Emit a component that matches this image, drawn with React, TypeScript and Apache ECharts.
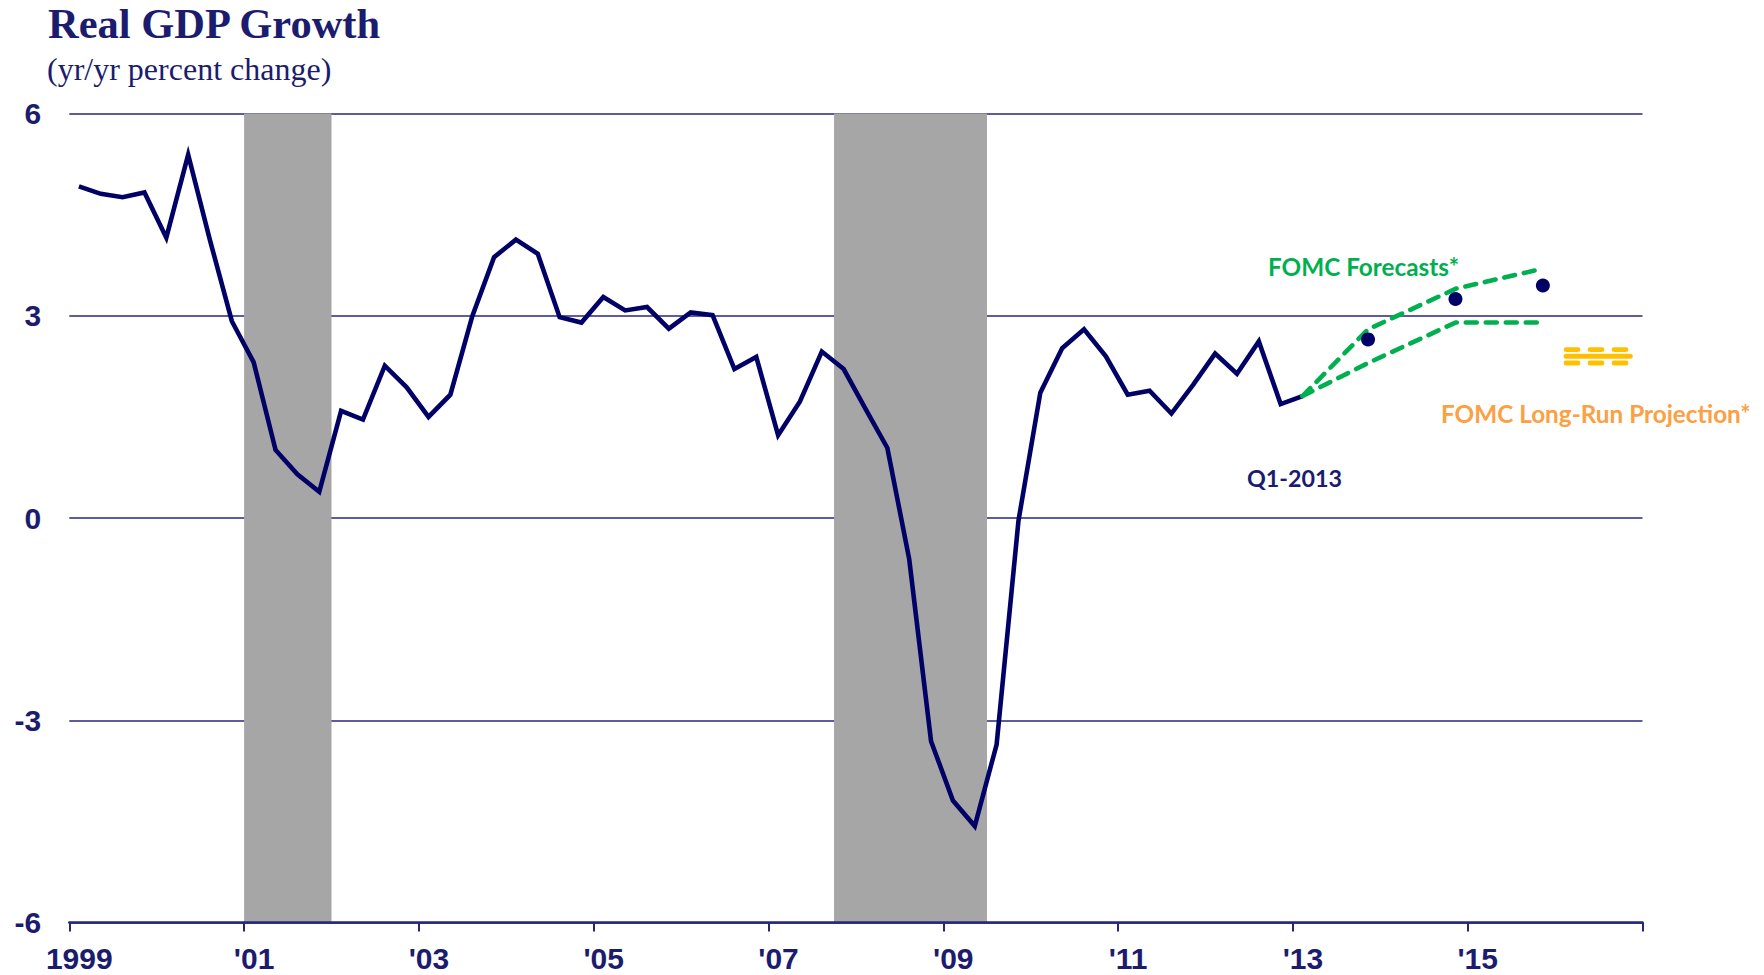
import React, { useEffect, useRef } from "react";
import * as echarts from "echarts";

// ---------- DATA ----------
const TITLE = "Real GDP Growth";
const SUBTITLE = "(yr/yr percent change)";
const START_YEAR = 1999;

// Real GDP, yr/yr % change, quarterly from 1999Q1 to 2013Q1
const gdpYoY: number[] = [
  4.92, 4.81, 4.76, 4.83, // 1999
  4.16, 5.39, 4.12, 2.92, // 2000
  2.31, 1.01, 0.65, 0.39, // 2001
  1.59, 1.46, 2.26, 1.94, // 2002
  1.5, 1.83, 2.99, 3.87, // 2003
  4.13, 3.92, 2.98, 2.9, // 2004
  3.28, 3.08, 3.13, 2.81, // 2005
  3.05, 3.01, 2.21, 2.39, // 2006
  1.23, 1.73, 2.47, 2.21, // 2007
  1.62, 1.04, -0.61, -3.31, // 2008
  -4.19, -4.57, -3.36, -0.04, // 2009
  1.86, 2.52, 2.8, 2.4, // 2010
  1.83, 1.89, 1.55, 1.98, // 2011
  2.44, 2.14, 2.62, 1.69, // 2012
  1.81, // 2013Q1
];

// FOMC central tendency (forecast band)
const forecastPeriods = ["2013Q1", "2013Q4", "2014Q4", "2015Q4"];
const forecastHigh = [1.81, 2.8, 3.4, 3.7];
const forecastLow = [1.81, 2.3, 2.9, 2.9];

// Dots
const dotPeriods = ["2013Q4", "2014Q4", "2015Q4"];
const dotValues = [2.65, 3.25, 3.45];

// FOMC long-run projection
const longRunPeriods = ["2016Q1", "2016Q4"];
const longRunHigh = 2.5;
const longRunMid = 2.4;
const longRunLow = 2.3;

// Recessions (start quarter, end quarter)
const recessionStart = ["2001Q1", "2007Q4"];
const recessionEnd = ["2001Q4", "2009Q2"];

// Axis ticks
const yTicks = { min: -6, max: 6, interval: 3 };
const xTicks = { min: 0, max: 18, interval: 2 };

// ---------- helpers ----------
const POINT_OFFSET = 0.11;
const parseQ = (p: string) => {
  const y = parseInt(p.slice(0, 4), 10);
  const q = parseInt(p.slice(5), 10);
  return { y, q };
};
const qPoint = (p: string) => {
  const { y, q } = parseQ(p);
  return y - START_YEAR + (q - 1) / 4 + POINT_OFFSET;
};
const qStart = (p: string) => {
  const { y, q } = parseQ(p);
  return y - START_YEAR + (q - 1) / 4;
};
const qEnd = (p: string) => qStart(p) + 0.25;

const NAVY = "#000066";
const TEXT_NAVY = "#1C1C6E";
const GRID_NAVY = "#26267E";
const GREEN = "#00B050";
const GOLD = "#FFC000";
const ORANGE = "#FBA043";

export default function App() {
  const ref = useRef<HTMLDivElement>(null);

  useEffect(() => {
    if (!ref.current) return;
    const chart = echarts.init(ref.current, undefined, { renderer: "svg" });

    const gdpData = gdpYoY.map((v, i) => {
      const y = START_YEAR + Math.floor(i / 4);
      const q = (i % 4) + 1;
      return [qPoint(`${y}Q${q}`), v];
    });
    const hiData = forecastPeriods.map((p, i) => [qPoint(p), forecastHigh[i]]);
    const loData = forecastPeriods.map((p, i) => [qPoint(p), forecastLow[i]]);
    const dotData = dotPeriods.map((p, i) => [qPoint(p), dotValues[i]]);
    const lrX0 = qPoint(longRunPeriods[0]) + 0.015;
    const lrX1 = qPoint(longRunPeriods[1]);
    const lrLine = (v: number) => [
      [lrX0, v],
      [lrX1, v],
    ];
    const bands = recessionStart.map((s, i) => [
      { xAxis: qStart(s) },
      { xAxis: qEnd(recessionEnd[i]) },
    ]);

    const labelFont = {
      fontFamily: "'Liberation Sans', Arial, sans-serif",
      fontWeight: "bold" as const,
      fontSize: 30,
      color: TEXT_NAVY,
    };
    const annFont = "Lato, 'Open Sans', sans-serif";

    chart.setOption({
      animation: false,
      backgroundColor: "#ffffff",
      grid: {
        left: 69.3,
        right: 121.5,
        top: 113.6,
        bottom: 52.5,
        containLabel: false,
        outerBoundsMode: "none",
      },
      xAxis: {
        type: "value",
        min: xTicks.min,
        max: xTicks.max,
        interval: xTicks.interval,
        z: 5,
        axisLine: { show: true, onZero: false, lineStyle: { color: GRID_NAVY, width: 2.5 } },
        axisTick: { show: true, length: 9, lineStyle: { color: GRID_NAVY, width: 2 } },
        splitLine: { show: false },
        axisLabel: {
          ...labelFont,
          margin: 21,
          padding: [0, 0, 0, 20],
          formatter: (v: number) => {
            if (v === 0) return String(START_YEAR);
            if (v >= xTicks.max) return "";
            return "'" + String((START_YEAR + v) % 100).padStart(2, "0");
          },
        },
      },
      yAxis: {
        type: "value",
        min: yTicks.min,
        max: yTicks.max,
        interval: yTicks.interval,
        axisLine: { show: false },
        axisTick: { show: false },
        splitLine: { show: true, lineStyle: { color: GRID_NAVY, width: 1.6 } },
        axisLabel: { ...labelFont, margin: 28 },
      },
      series: [
        {
          type: "line",
          name: "recessions",
          data: [],
          z: 1,
          silent: true,
          markArea: {
            silent: true,
            itemStyle: { color: "#A6A6A6", opacity: 1 },
            data: bands,
          },
        },
        {
          type: "line",
          name: "Real GDP",
          data: gdpData,
          z: 4,
          symbol: "none",
          lineStyle: { color: NAVY, width: 4.6, join: "miter" },
        },
        {
          type: "line",
          name: "FOMC high",
          data: hiData,
          z: 5,
          symbol: "none",
          lineStyle: { color: GREEN, width: 4.6, type: [11, 9], cap: "round" },
        },
        {
          type: "line",
          name: "FOMC low",
          data: loData,
          z: 5,
          symbol: "none",
          lineStyle: { color: GREEN, width: 4.6, type: [11, 9], cap: "round" },
        },
        {
          type: "scatter",
          name: "dots",
          data: dotData,
          z: 6,
          symbol: "circle",
          symbolSize: 14,
          itemStyle: { color: NAVY, opacity: 1 },
        },
        {
          type: "line",
          name: "LR high",
          data: lrLine(longRunHigh),
          z: 5,
          symbol: "none",
          lineStyle: { color: GOLD, width: 4.8, type: [12, 12], cap: "round" },
        },
        {
          type: "line",
          name: "LR mid",
          data: lrLine(longRunMid),
          z: 5,
          symbol: "none",
          lineStyle: { color: GOLD, width: 5, cap: "round" },
        },
        {
          type: "line",
          name: "LR low",
          data: lrLine(longRunLow),
          z: 5,
          symbol: "none",
          lineStyle: { color: GOLD, width: 4.8, type: [12, 12], cap: "round" },
        },
      ],
      graphic: [
        {
          type: "text",
          x: 48,
          y: 23.5,
          style: {
            text: TITLE,
            fontFamily: "'Liberation Serif', 'Times New Roman', serif",
            fontWeight: "bold",
            fontSize: 42.5,
            fill: TEXT_NAVY,
            align: "left",
            verticalAlign: "middle",
          },
        },
        {
          type: "text",
          x: 47,
          y: 68.5,
          style: {
            text: SUBTITLE,
            fontFamily: "'Liberation Serif', 'Times New Roman', serif",
            fontSize: 32,
            fill: TEXT_NAVY,
            align: "left",
            verticalAlign: "middle",
          },
        },
        {
          type: "text",
          x: 1268,
          y: 266,
          style: {
            text: "FOMC Forecasts*",
            fontFamily: annFont,
            fontWeight: "bold",
            fontSize: 24.3,
            fill: GREEN,
            align: "left",
            verticalAlign: "middle",
          },
        },
        {
          type: "text",
          x: 1441,
          y: 413,
          style: {
            text: "FOMC Long-Run Projection*",
            fontFamily: annFont,
            fontWeight: "bold",
            fontSize: 24.3,
            fill: ORANGE,
            align: "left",
            verticalAlign: "middle",
          },
        },
        {
          type: "text",
          x: 1247,
          y: 477.5,
          style: {
            text: "Q1-2013",
            fontFamily: annFont,
            fontWeight: "bold",
            fontSize: 23.3,
            fill: TEXT_NAVY,
            align: "left",
            verticalAlign: "middle",
          },
        },
      ],
    });

    return () => {
      chart.dispose();
    };
  }, []);

  return (
    <div
      ref={ref}
      style={{ position: "absolute", left: 0, top: 0, width: 1764, height: 975 }}
    />
  );
}
